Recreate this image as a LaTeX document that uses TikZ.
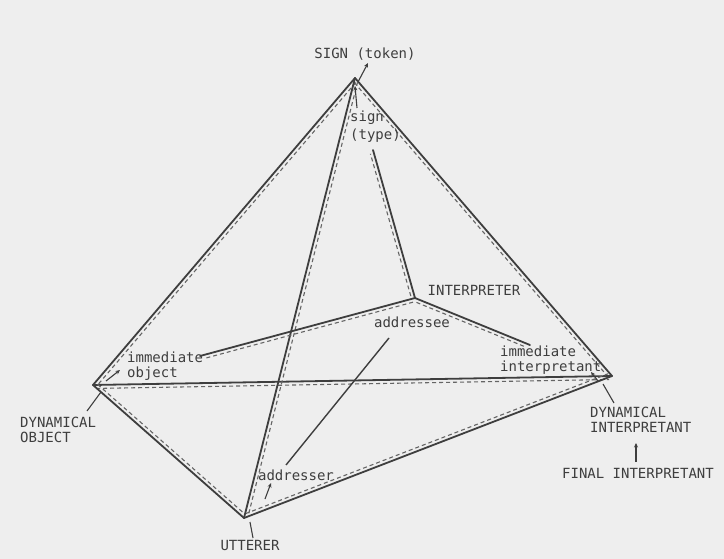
\documentclass[tikz,border=0pt]{standalone}
\usepackage{fontspec}
\newfontfamily\labfont{DejaVu Sans Mono}
\usetikzlibrary{calc,arrows.meta}
\definecolor{paper}{RGB}{238,238,238}
\definecolor{ink}{RGB}{62,62,62}
\newcommand\dedge[4]{%
  \draw[solidedge] (#1) -- (#2);
  \draw[dashedge] ($(#1)!3.5pt!#3:(#2)$) -- ($(#2)!3.5pt!#4:(#1)$);
}
\begin{document}
\begin{tikzpicture}[x=1pt,y=-1pt,
  lab/.style={font=\labfont\fontsize{14}{15}\selectfont, text=ink, inner sep=0pt, align=left},
  solidedge/.style={draw=ink, line width=1.8pt, line cap=round},
  dashedge/.style={draw=ink!80, line width=1.1pt, dash pattern=on 4pt off 3pt, shorten <=3pt, shorten >=3pt},
  marker/.style={draw=ink, line width=1.1pt},
  tipmarker/.style={draw=ink, line width=1.1pt, -{Stealth[length=4.5pt,width=4pt]}},
]
\fill[paper] (0,0) rectangle (724,559);
\useasboundingbox (0,0) rectangle (724,559);

% vertices
\coordinate (T) at (355,78);
\coordinate (L) at (93,385);
\coordinate (R) at (612,376);
\coordinate (B) at (244,518);
\coordinate (I) at (415,298);
\coordinate (S) at (373,150);
\coordinate (IO) at (200,356);
\coordinate (II) at (530,345);
\coordinate (AE) at (389,338);
\coordinate (AR) at (286,465);

% edges
\dedge{T}{L}{90}{-90}
\dedge{T}{R}{-90}{90}
\dedge{L}{R}{-90}{90}
\dedge{L}{B}{90}{-90}
\dedge{B}{R}{90}{-90}
\dedge{T}{B}{90}{-90}
\dedge{I}{S}{90}{-90}
\dedge{I}{IO}{90}{-90}
\dedge{I}{II}{-90}{90}
\draw[marker, line width=1.4pt] (AE) -- (AR);

% labels
\node[lab] (signtok) at (365,54) {SIGN (token)};
\node[lab, anchor=north west, font=\labfont\fontsize{14}{18}\selectfont] (signtype) at (350,111) {sign\\(type)};
\node[lab] (interp) at (474,290) {INTERPRETER};
\node[lab] (addressee) at (412,322) {addressee};
\node[lab, anchor=west] (immobj) at (127,366) {immediate\\object};
\node[lab, anchor=west] (immint) at (500,360) {immediate\\interpretant};
\node[lab, anchor=west] (dynobj) at (20,430) {DYNAMICAL\\OBJECT};
\node[lab, anchor=west] (dynint) at (590,420) {DYNAMICAL\\INTERPRETANT};
\node[lab] (final) at (638,473) {FINAL INTERPRETANT};
\node[lab] (addresser) at (296,475) {addresser};
\node[lab] (utterer) at (250,545) {UTTERER};

% small pointer marks
\coordinate (tokA) at (358,82);   \coordinate (tokB) at (368,63);
\coordinate (typA) at (357,108);  \coordinate (typB) at (355,86);
\coordinate (ioA) at (106,381);   \coordinate (ioB) at (120,370);
\coordinate (doA) at (87,411);    \coordinate (doB) at (101,392);
\coordinate (iiA) at (598,381);   \coordinate (iiB) at (591,372);
\coordinate (diA) at (603,384);   \coordinate (diB) at (614,403);
\coordinate (fiA) at (636,462);   \coordinate (fiB) at (636,443);
\coordinate (utA) at (250,522);   \coordinate (utB) at (253,538);
\coordinate (arA) at (265,499);   \coordinate (arB) at (271,483);
\draw[tipmarker] (tokA) -- (tokB);
\draw[tipmarker] (typA) -- (typB);
\draw[tipmarker] (ioA) -- (ioB);
\draw[marker] (doA) -- (doB);
\draw[tipmarker] (iiA) -- (iiB);
\draw[marker] (diA) -- (diB);
\draw[tipmarker] (fiA) -- (fiB);
\draw[marker] (utA) -- (utB);
\draw[tipmarker] (arA) -- (arB);
\end{tikzpicture}
\end{document}
